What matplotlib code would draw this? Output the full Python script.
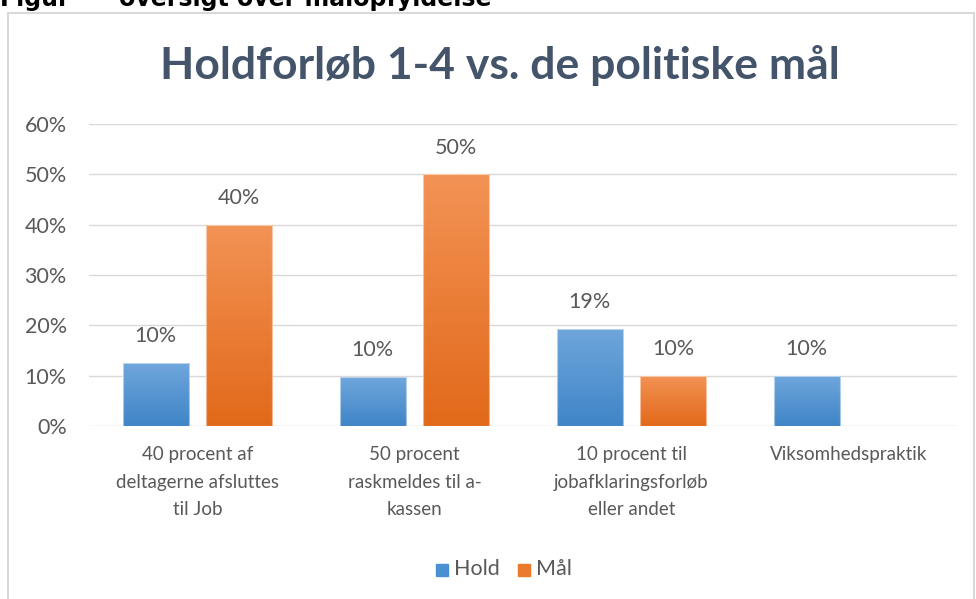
import numpy as np
import matplotlib.pyplot as plt
from matplotlib.colors import LinearSegmentedColormap
from matplotlib.patches import Rectangle

plt.rcParams['font.family'] = ['Lato', 'DejaVu Sans']

# data
categories = ["40 procent af\ndeltagerne afsluttes\ntil Job",
              "50 procent\nraskmeldes til a-\nkassen",
              "10 procent til\njobafklaringsforløb\neller andet",
              "Viksomhedspraktik"]
hold = [0.125, 0.097, 0.193, 0.10]
hold_labels = ["10%", "10%", "19%", "10%"]
maal = [0.40, 0.50, 0.10, None]
maal_labels = ["40%", "50%", "10%", None]
yticks = [0, 0.1, 0.2, 0.3, 0.4, 0.5, 0.6]

grey = "#595959"
blue_cm = LinearSegmentedColormap.from_list("b", ["#6FA6DC", "#3F85C7"])
orange_cm = LinearSegmentedColormap.from_list("o", ["#F39355", "#E2691A"])

fig = plt.figure(figsize=(9.76, 5.99), dpi=100)

# chart frame
fig.patches.append(Rectangle((8 / 976, -0.05), 966 / 976, 1.05 - 13 / 599,
                             transform=fig.transFigure, fill=False,
                             edgecolor="#D9D9D9", linewidth=1.5))

# clipped header text from the surrounding document
fig.text(0.0, 1 - 6 / 599, "Figur      oversigt over målopfyldelse",
         fontsize=17, fontweight="bold", color="black", va="baseline",
         ha="left", family=["DejaVu Sans"])

fig.text(0.512, 1 - 65 / 599, "Holdforløb 1-4 vs. de politiske mål",
         fontsize=32, fontweight="bold", color="#44546A", ha="center", va="center")

ax = fig.add_axes([89 / 976, 1 - 426 / 599, 868 / 976, 302 / 599])
ax.set_xlim(0, 4)
ax.set_ylim(0, 0.6)
ax.set_yticks(yticks)
ax.set_yticklabels([f"{int(round(t * 100))}%" for t in yticks])
ax.tick_params(axis="y", length=0, pad=16, labelsize=15.5, labelcolor=grey)
ax.set_xticks([])
for s in ax.spines.values():
    s.set_visible(False)
ax.grid(axis="y", color="#D9D9D9", linewidth=1)
ax.set_axisbelow(True)

x = np.arange(4) + 0.5
w = 0.307
off = 0.192


def grad_bar(xc, h, cmap):
    b = ax.bar(xc, h, w, color="none", edgecolor="none", zorder=2)[0]
    grad = np.linspace(0, 1, 100).reshape(-1, 1)
    im = ax.imshow(grad, cmap=cmap, aspect="auto", zorder=2,
                   extent=[xc - w / 2, xc + w / 2, 0, h], origin="upper")
    im.set_clip_path(b)
    ax.bar(xc, h, w, color="none", edgecolor="white", linewidth=0.8,
           alpha=0.5, zorder=3)


for i in range(4):
    grad_bar(x[i] - off, hold[i], blue_cm)
    ax.text(x[i] - off, hold[i] + 0.053, hold_labels[i], ha="center",
            va="center", fontsize=15.5, color=grey)
    if maal[i] is not None:
        grad_bar(x[i] + off, maal[i], orange_cm)
        ax.text(x[i] + off, maal[i] + 0.053, maal_labels[i], ha="center",
                va="center", fontsize=15.5, color=grey)
ax.set_xlim(0, 4)
ax.set_ylim(0, 0.6)

for i, c in enumerate(categories):
    ax.text(x[i], -0.04, c, ha="center", va="top", fontsize=13.5,
            color=grey, linespacing=1.75)

# legend
fig.patches.append(Rectangle((436 / 976, 1 - 576 / 599), 12 / 976, 12 / 599,
                             transform=fig.transFigure, color="#4A8FD2"))
fig.text(454 / 976, 1 - 569 / 599, "Hold", fontsize=15.5, color=grey, va="center")
fig.patches.append(Rectangle((518 / 976, 1 - 576 / 599), 12 / 976, 12 / 599,
                             transform=fig.transFigure, color="#EC7A2C"))
fig.text(536 / 976, 1 - 569 / 599, "Mål", fontsize=15.5, color=grey, va="center")

fig.savefig("out.png", dpi=100)
